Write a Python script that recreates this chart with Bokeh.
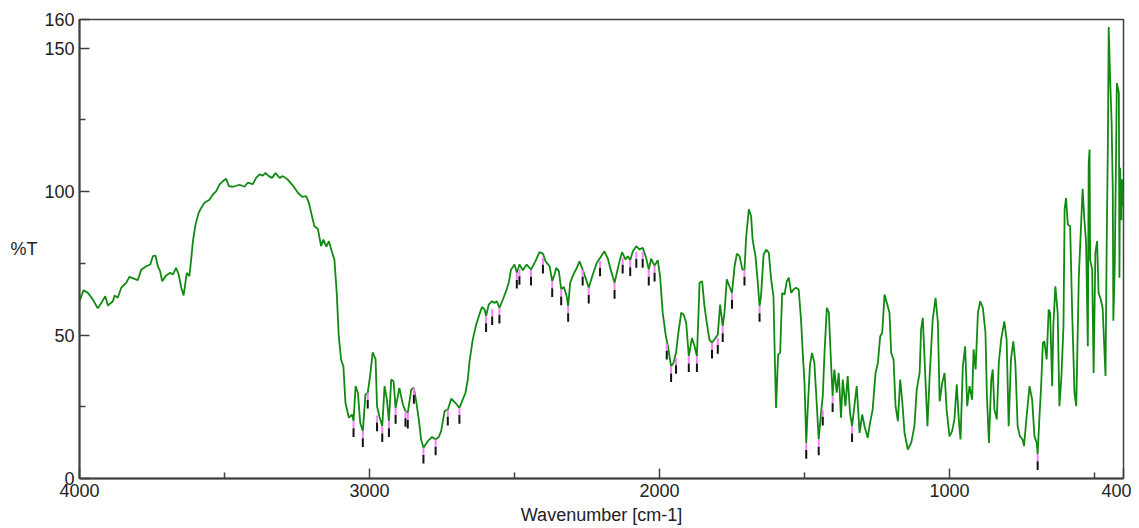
from bokeh.plotting import figure
from bokeh.models import Range1d, FixedTicker
from bokeh.embed import file_html
from bokeh.resources import INLINE

# Spectrum: wavenumber (cm-1) and %T
wavenumber = [
    4000, 3986, 3971, 3954, 3937, 3925, 3911, 3902, 3885, 3879, 3868, 3856, 3839, 3828, 3810, 3799,
    3787, 3770, 3756, 3747, 3738, 3730, 3722, 3715, 3701, 3687, 3678, 3667, 3658, 3649, 3641, 3634,
    3630, 3621, 3615, 3609, 3600, 3589, 3580, 3569, 3552, 3540, 3529, 3517, 3506, 3494, 3485, 3471,
    3448, 3431, 3420, 3402, 3391, 3379, 3368, 3359, 3347, 3336, 3324, 3310, 3299, 3282, 3264, 3247,
    3232, 3218, 3209, 3201, 3190, 3178, 3167, 3159, 3149, 3140, 3132, 3121, 3113, 3106, 3098, 3090,
    3083, 3071, 3060, 3055, 3048, 3040, 3032, 3023, 3014, 3006, 2998, 2989, 2979, 2974,
    2966, 2956, 2948, 2940, 2933, 2925, 2917, 2910, 2897, 2885, 2876, 2868, 2856, 2847, 2839, 2830,
    2822, 2814, 2799, 2784, 2772, 2761, 2753, 2741, 2730, 2718, 2704, 2690, 2681, 2669, 2661, 2655,
    2644, 2632, 2621, 2612, 2603, 2598, 2589, 2577, 2569, 2561, 2552, 2540, 2529, 2520, 2512, 2500,
    2492, 2483, 2471, 2458, 2443, 2428, 2414, 2402, 2393, 2379, 2370, 2362, 2356, 2347, 2339, 2330,
    2320, 2315, 2308, 2297, 2285, 2276, 2265, 2253, 2244, 2230, 2216, 2205, 2190, 2178, 2167, 2155,
    2147, 2138, 2129, 2117, 2109, 2101, 2092, 2080, 2069, 2058, 2046, 2037, 2029, 2017, 2006, 1998,
    1989, 1979, 1971, 1960, 1952, 1943, 1935, 1925, 1917, 1908, 1899, 1888, 1879, 1871, 1865,
    1862, 1853, 1845, 1837, 1828, 1819, 1807, 1799, 1791, 1782, 1776, 1768, 1759, 1750, 1741, 1733,
    1724, 1714, 1707, 1701, 1692, 1684, 1679, 1669, 1662, 1655, 1650, 1641, 1632, 1623, 1615, 1607,
    1602, 1598, 1591, 1584, 1577, 1569, 1561, 1554, 1546, 1538, 1529, 1520, 1512, 1506, 1500, 1494,
    1489, 1481, 1474, 1466, 1460, 1451, 1443, 1437, 1431, 1423, 1416, 1408, 1403, 1397, 1389, 1382,
    1374, 1368, 1359, 1351, 1343, 1336, 1328, 1320, 1310, 1301, 1293, 1282, 1274, 1265, 1255, 1247,
    1239, 1232, 1224, 1216, 1207, 1201, 1193, 1186, 1178, 1170, 1163, 1155, 1144, 1132, 1121, 1113,
    1103, 1098, 1092, 1083, 1076, 1069, 1058, 1048, 1040, 1034, 1025, 1017, 1010, 1000, 991, 983,
    975, 968, 962, 954, 946, 939, 931, 922, 917, 910, 902, 894, 885, 876, 871, 864,
    856, 851, 845, 837, 830, 822, 811, 803, 796, 788, 780, 773, 765, 757, 748, 743,
    735, 724, 715, 707, 699, 696, 690, 684, 678, 673, 665, 658, 653, 646, 642, 635,
    627, 621, 614, 607, 603, 598, 592, 584, 577, 569, 563, 554, 546, 541, 535, 529,
    523, 520, 517, 515, 508, 503, 497, 491, 486, 480, 472, 462, 458, 454, 451, 446,
    441, 437, 435, 430, 423, 416, 414, 412, 407, 405, 400,
]
transmittance = [
    61.8, 65.6, 64.7, 62.4, 59.3, 61.2, 63.5, 60.3, 61.8, 63.8, 63.0, 66.5, 68.2, 70.3, 69.6, 69.1,
    72.8, 74.0, 74.6, 77.5, 77.7, 74.0, 72.3, 68.8, 70.8, 71.7, 71.1, 73.4, 71.1, 66.5, 63.8, 68.8,
    71.7, 70.5, 76.3, 82.7, 88.5, 92.6, 94.4, 96.1, 97.2, 99.0, 100.1, 102.5, 103.6, 104.5, 101.9, 101.7,
    102.4, 101.7, 103.1, 102.6, 104.8, 106.0, 105.6, 106.5, 105.4, 104.8, 106.5, 104.8, 105.4, 104.2, 102.1, 99.6,
    98.2, 98.4, 96.1, 92.6, 87.9, 87.0, 81.0, 83.3, 80.8, 82.7, 79.8, 76.3, 64.7, 49.6, 41.5, 39.1,
    26.4, 21.2, 22.3, 20.0, 32.2, 29.9, 19.4, 16.5, 29.3, 29.9, 35.7, 44.0, 41.5, 25.2,
    21.7, 18.2, 32.2, 27.5, 20.0, 34.5, 33.9, 24.6, 31.6, 25.8, 23.5, 22.9, 31.0, 31.6, 26.9, 20.6,
    13.6, 10.7, 13.0, 14.5, 13.6, 14.5, 16.5, 23.5, 24.0, 27.8, 26.4, 24.6, 26.9, 29.9, 34.5, 40.9,
    48.4, 53.7, 57.2, 59.8, 58.9, 56.6, 60.6, 61.8, 61.2, 61.8, 59.5, 62.4, 65.3, 68.2, 72.8, 74.6,
    71.7, 74.6, 72.6, 74.6, 72.8, 75.7, 78.9, 78.4, 75.7, 74.0, 68.8, 71.1, 73.4, 72.3, 65.9, 66.8,
    63.5, 60.1, 68.2, 71.1, 73.4, 75.7, 72.8, 69.4, 66.5, 71.1, 75.2, 76.9, 79.2, 76.6, 72.3, 68.2,
    71.7, 75.7, 78.9, 76.3, 77.5, 76.1, 79.2, 81.0, 79.8, 80.4, 76.9, 72.8, 76.6, 74.2, 76.1, 70.5,
    57.8, 50.2, 46.1, 39.1, 40.3, 43.8, 50.8, 57.8, 57.2, 54.3, 42.6, 49.0, 46.1, 42.6, 58.9,
    68.2, 68.8, 60.1, 54.3, 48.4, 47.3, 49.0, 50.2, 60.6, 53.1, 57.8, 69.4, 67.0, 64.7, 74.0, 78.4,
    77.5, 72.8, 72.8, 84.4, 93.8, 91.4, 83.3, 77.5, 69.4, 60.1, 63.5, 78.1, 79.8, 78.7, 69.4, 63.5,
    40.3, 24.6, 43.2, 43.8, 64.7, 64.1, 68.8, 70.0, 64.7, 65.9, 66.5, 65.9, 55.4, 43.8, 33.4, 12.4,
    24.0, 39.7, 43.8, 40.3, 29.9, 13.6, 22.9, 28.7, 43.8, 59.5, 57.8, 39.1, 28.7, 38.0, 29.9, 36.8,
    21.2, 34.5, 25.2, 35.7, 22.9, 18.2, 25.2, 32.2, 15.9, 22.3, 18.2, 14.2, 19.4, 24.0, 36.8, 40.3,
    49.6, 50.8, 64.1, 61.2, 57.8, 43.8, 41.5, 25.2, 20.0, 34.5, 26.9, 15.9, 10.1, 12.4, 18.2, 31.0,
    36.8, 51.9, 56.0, 34.5, 18.2, 34.5, 55.4, 63.0, 54.3, 26.9, 33.4, 36.8, 24.0, 14.7, 16.5, 20.6,
    32.8, 20.6, 13.6, 39.1, 46.1, 25.2, 32.2, 27.5, 45.0, 38.0, 57.8, 61.8, 59.5, 50.8, 28.7, 12.4,
    34.5, 38.0, 24.0, 20.6, 40.3, 48.4, 54.8, 48.4, 18.2, 41.5, 47.8, 40.3, 18.2, 14.7, 13.6, 11.3,
    20.6, 32.2, 27.5, 14.7, 12.4, 8.5, 21.2, 32.2, 47.3, 47.8, 41.5, 58.9, 57.8, 32.2, 53.1, 67.0,
    57.8, 25.2, 35.7, 53.1, 93.8, 97.8, 88.5, 87.9, 57.8, 29.9, 25.2, 70.5, 89.1, 101.0, 90.3, 82.2,
    46.1, 110.0, 114.7, 76.3, 72.8, 36.8, 78.7, 82.7, 64.7, 63.0, 59.5, 35.7, 81.0, 115.8, 157.4, 139.1,
    124.0, 100.7, 55.0, 75.0, 137.9, 134.4, 70.0, 108.3, 90.0, 104.2, 95.0,
]

# Picked peaks (markers below minima)
peak_wn = [3055, 3023, 3006, 2974, 2956, 2933, 2910, 2876, 2868, 2847, 2814, 2772, 2730, 2690,
           2598, 2577, 2552, 2492, 2483, 2443, 2402, 2370, 2339, 2315, 2265, 2244, 2205, 2155,
           2127, 2101, 2080, 2058, 2037, 2017, 1975, 1960, 1943, 1899, 1871, 1819, 1799, 1782,
           1750, 1707, 1655, 1494, 1451, 1437, 1403, 1336, 696]
peak_t = [20.0, 16.5, 29.9, 22.0, 18.2, 20.0, 24.6, 23.5, 22.9, 31.6, 10.7, 13.6, 24.0, 24.6,
          56.6, 59.0, 59.5, 71.7, 73.0, 72.8, 77.0, 68.8, 65.9, 60.1, 72.8, 66.5, 76.0, 68.2,
          77.0, 76.1, 79.0, 79.0, 72.8, 74.2, 47.0, 39.1, 42.0, 42.6, 42.6, 47.3, 49.0, 53.1,
          64.7, 72.8, 60.1, 12.4, 13.6, 24.0, 28.7, 18.2, 8.5]

x_ticks = [4000, 3000, 2000, 1000, 400]
x_minor = [3500, 2500, 1500, 500]
y_ticks = [0, 50, 100, 150, 160]
y_minor = [25, 75, 125]

FONT = "Liberation Sans"
AXIS_COLOR = "#404040"

p = figure(width=1131, height=527, x_range=Range1d(4000, 400), y_range=Range1d(0, 160),
           output_backend="svg", toolbar_location=None,
           min_border_left=79, min_border_right=8, min_border_top=19, min_border_bottom=49)
p.background_fill_color = "white"
p.border_fill_color = "white"
p.outline_line_color = AXIS_COLOR
p.outline_line_width = 1.5
p.xgrid.visible = False
p.ygrid.visible = False

p.line(wavenumber, transmittance, line_color="#118a11", line_width=1.8)

mid = [t - 2.5 for t in peak_t]
bot = [t - 5.5 for t in peak_t]
p.segment(x0=peak_wn, y0=peak_t, x1=peak_wn, y1=mid, line_color="#ff80ff", line_width=2)
p.segment(x0=peak_wn, y0=mid, x1=peak_wn, y1=bot, line_color="#111111", line_width=2)

p.xaxis.ticker = FixedTicker(ticks=x_ticks, minor_ticks=x_minor)
p.yaxis.ticker = FixedTicker(ticks=y_ticks, minor_ticks=y_minor)
for ax in (p.xaxis[0], p.yaxis[0]):
    ax.axis_line_color = AXIS_COLOR
    ax.axis_line_width = 2
    ax.major_tick_line_color = AXIS_COLOR
    ax.minor_tick_line_color = AXIS_COLOR
    ax.major_tick_line_width = 1.5
    ax.minor_tick_line_width = 1.5
    ax.major_tick_in = 10
    ax.major_tick_out = 0
    ax.minor_tick_in = 6
    ax.minor_tick_out = 0
    ax.major_label_text_font = FONT
    ax.major_label_text_font_size = "18px"
    ax.major_label_text_color = "#222222"
    ax.axis_label_text_font = FONT
    ax.axis_label_text_font_size = "18px"
    ax.axis_label_text_font_style = "normal"
    ax.axis_label_text_color = "#222222"
    ax.major_label_standoff = 5

p.xaxis.axis_label = "Wavenumber [cm-1]"
p.xaxis.axis_label_standoff = 5
p.yaxis.axis_label = "%T"
p.yaxis.axis_label_standoff = 4
yax = p.yaxis[0]
if "axis_label_orientation" in yax.properties():
    yax.axis_label_orientation = "horizontal"

open("out.html", "w").write(file_html(p, INLINE))
